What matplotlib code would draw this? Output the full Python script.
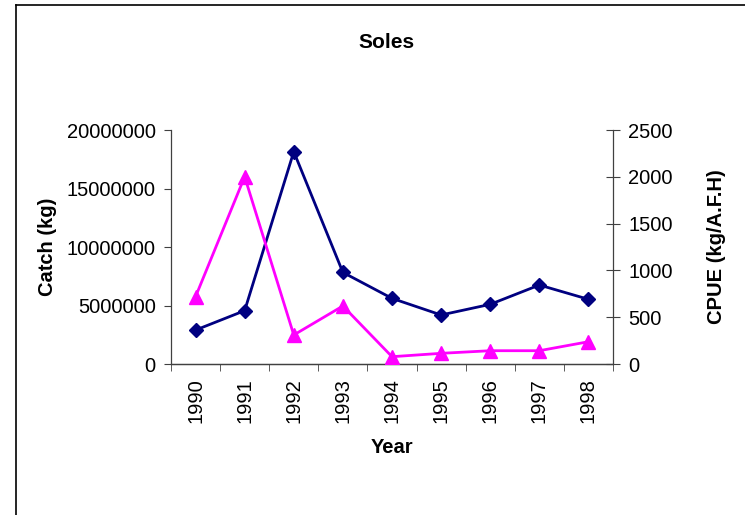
import numpy as np
import matplotlib
matplotlib.use('Agg')
import matplotlib.pyplot as plt
from matplotlib.lines import Line2D

plt.rcParams['font.family'] = ['Liberation Sans', 'DejaVu Sans']

years = ['1990', '1991', '1992', '1993', '1994', '1995', '1996', '1997', '1998']
catch = [2900000, 4560000, 18150000, 7830000, 5610000, 4190000, 5100000, 6750000, 5530000]
cpue = [719, 2001, 310, 620, 78, 114, 142, 142, 238]

fig = plt.figure(figsize=(7.45, 5.15), dpi=100)
ax = fig.add_axes([171 / 745, 1 - 364 / 515, 442 / 745, 234 / 515])
ax2 = ax.twinx()

x = np.arange(len(years))
ax.plot(x, catch, color='#000080', lw=2, marker='D', ms=7, zorder=3)
ax2.plot(x, cpue, color='#FF00FF', lw=2, marker='^', ms=10, zorder=3)

ax.set_xlim(-0.5, len(years) - 0.5)
ax.set_ylim(0, 20000000)
ax2.set_ylim(0, 2500)
ax.set_yticks(np.arange(0, 20000001, 5000000))
ax.set_yticklabels([str(v) for v in range(0, 20000001, 5000000)])
ax2.set_yticks(np.arange(0, 2501, 500))

ax.set_xticks(x)
ax.set_xticklabels(years, rotation=90)
ax.set_xticks(np.arange(-0.5, len(years), 1), minor=True)
ax.tick_params(axis='x', which='major', length=0, pad=10, labelsize=14.5)
ax.tick_params(axis='x', which='minor', length=5, direction='out', color='#404040')
ax.tick_params(axis='y', length=5, direction='out', labelsize=14.5, color='#404040', pad=6)
ax2.tick_params(axis='y', length=10, direction='inout', labelsize=14.5, color='#404040', pad=6)

for a in (ax, ax2):
    a.spines['top'].set_visible(False)
    for s in ('left', 'right', 'bottom'):
        a.spines[s].set_color('#404040')
        a.spines[s].set_linewidth(0.9)
ax.spines['right'].set_visible(False)
ax2.spines['left'].set_visible(False)

ax.set_xlabel('Year', fontsize=14.5, fontweight='bold', labelpad=11)
ax.set_ylabel('Catch (kg)', fontsize=14.5, fontweight='bold', labelpad=7)
ax2.set_ylabel('CPUE (kg/A.F.H)', fontsize=14.5, fontweight='bold', labelpad=25)
fig.text(386 / 745, 1 - 43 / 515, 'Soles', ha='center', va='center', fontsize=15, fontweight='bold')

# outer chart frame
fx = 15.5 / 745
fy = 1 - 5 / 515
fig.add_artist(Line2D([fx, fx], [0, fy], transform=fig.transFigure, color='black', lw=1.2))
fig.add_artist(Line2D([fx, 1], [fy, fy], transform=fig.transFigure, color='black', lw=1.2))

fig.savefig('out.png', dpi=100)
